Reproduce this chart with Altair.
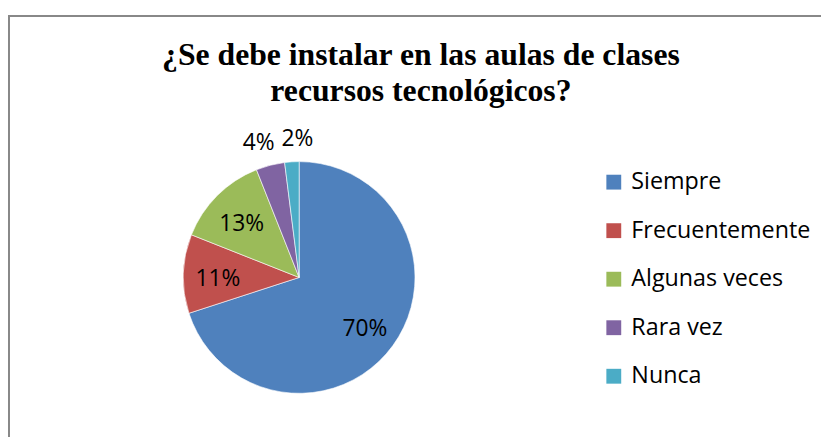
import altair as alt
import pandas as pd

categories = ["Siempre", "Frecuentemente", "Algunas veces", "Rara vez", "Nunca"]
values = [70, 11, 13, 4, 2]
colors = ["#4F81BD", "#C0504D", "#9BBB59", "#8064A2", "#4BACC6"]
title_lines = ["¿Se debe instalar en las aulas de clases", "recursos tecnológicos?"]

df = pd.DataFrame({"categoria": categories, "valor": values})

base = alt.Chart(df).transform_window(
    idx="row_number()"
).transform_calculate(
    dentro="datum.valor >= 10 ? datum.valor + '%' : ''",
    fuera_a="datum.valor < 10 && datum.idx == 4 ? datum.valor + '%' : ''",
    fuera_b="datum.valor < 10 && datum.idx == 5 ? datum.valor + '%' : ''",
)

color = alt.Color(
    "categoria:N",
    scale=alt.Scale(domain=categories, range=colors),
    sort=categories,
    legend=alt.Legend(
        title=None,
        orient="none",
        legendX=431,
        legendY=17,
        labelFont="Open Sans",
        labelFontSize=23.5,
        labelColor="#000000",
        labelLimit=0,
        symbolType="square",
        symbolSize=225,
        symbolStrokeWidth=0,
        rowPadding=24,
        labelOffset=6,
    ),
)

theta = alt.Theta("valor:Q", stack=True)

pie = base.mark_arc(radius=117, stroke="#FFFFFF", strokeWidth=0.6).encode(
    theta=theta,
    color=color,
    order=alt.Order("idx:Q"),
)

text_style = dict(font="Open Sans", fontSize=23, color="#000000", align="center", baseline="middle")

labels_in = base.mark_text(radius=82, dy=4, **text_style).encode(
    theta=theta,
    text="dentro:N",
    order=alt.Order("idx:Q"),
)

labels_out_a = base.mark_text(radius=140, dx=-6, **text_style).encode(
    theta=theta,
    text="fuera_a:N",
    order=alt.Order("idx:Q"),
)

labels_out_b = base.mark_text(radius=140, dx=7, **text_style).encode(
    theta=theta,
    text="fuera_b:N",
    order=alt.Order("idx:Q"),
)

frame = alt.Chart(pd.DataFrame({"f": [0]})).mark_rect(
    fill=None, stroke="#888888", strokeWidth=2
).encode(
    x=alt.value(-168),
    y=alt.value(-139),
    x2=alt.value(700),
    y2=alt.value(400),
)

chart = alt.layer(frame, pie, labels_in, labels_out_a, labels_out_b).properties(
    width=250,
    height=250,
    autosize=alt.AutoSizeParams(type="none"),
    padding={"left": 169, "top": 145, "right": 402, "bottom": 34},
    title=alt.TitleParams(
        text=title_lines,
        font="Liberation Serif",
        fontSize=32,
        fontWeight="bold",
        color="#000000",
        anchor="middle",
        dx=123,
        offset=0,
        dy=94,
        lineHeight=37,
    ),
).configure_view(stroke=None)

chart.save("out.html", embed_options={"renderer": "svg", "actions": False})
